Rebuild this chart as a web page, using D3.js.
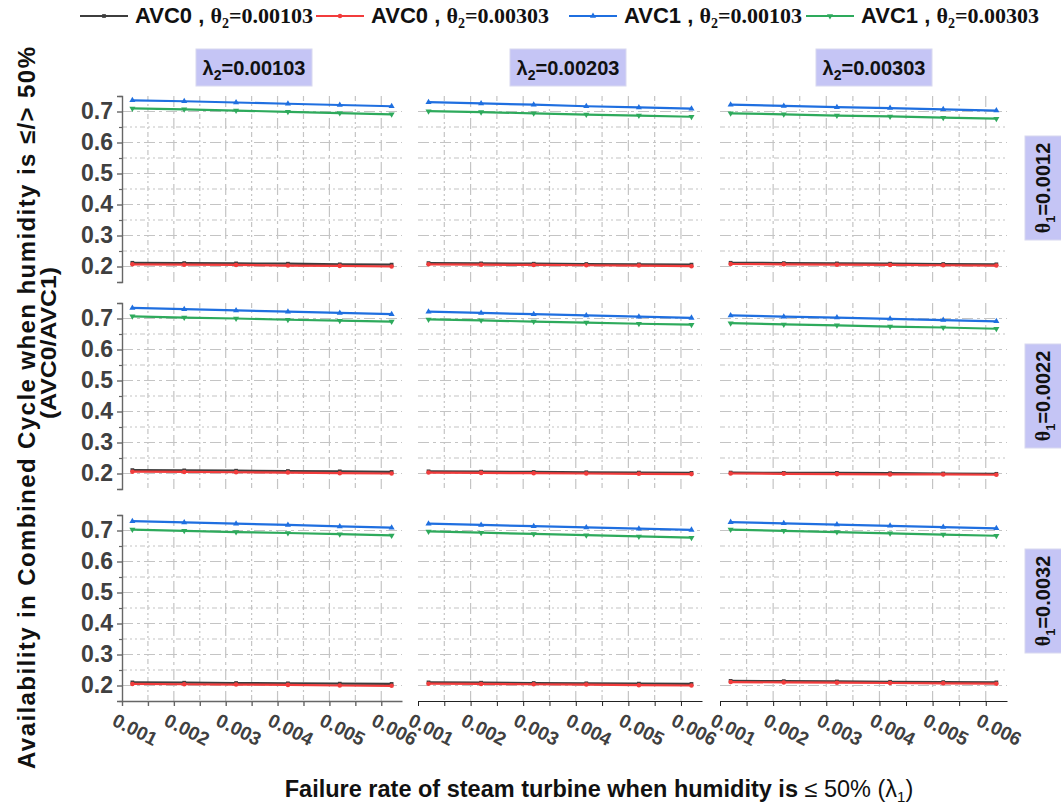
<!DOCTYPE html>
<html><head><meta charset="utf-8">
<script src="https://cdn.jsdelivr.net/npm/d3@7"></script>
<style>
body{margin:0;background:#fff}
svg{display:block}
text{font-family:"Liberation Sans",Arial,sans-serif;font-weight:bold}
</style>
</head><body>
<svg id="chart" width="1061" height="805"></svg>
<script>
// ---------- data ----------
const xValues = [0.001, 0.002, 0.003, 0.004, 0.005, 0.006];
const xTickLabels = ["0.001", "0.002", "0.003", "0.004", "0.005", "0.006"];
const yTickValues = [0.2, 0.3, 0.4, 0.5, 0.6, 0.7];
const lambda2Labels = ["0.00103", "0.00203", "0.00303"];
const theta1Labels = ["0.0012", "0.0022", "0.0032"];
const seriesNames = ["AVC0", "AVC0", "AVC1", "AVC1"];
const theta2Labels = ["0.00103", "0.00303", "0.00103", "0.00303"];

// each: [row(θ1)][col(λ2)] -> 6 values
const avc0_t2_00103 = [
  [[0.212,0.211,0.210,0.209,0.207,0.206],[0.211,0.210,0.209,0.208,0.207,0.206],[0.212,0.211,0.210,0.209,0.208,0.207]],
  [[0.211,0.210,0.209,0.208,0.207,0.205],[0.207,0.206,0.205,0.204,0.203,0.202],[0.203,0.202,0.202,0.201,0.200,0.199]],
  [[0.210,0.209,0.208,0.207,0.206,0.205],[0.210,0.209,0.208,0.207,0.206,0.205],[0.215,0.214,0.213,0.212,0.211,0.210]]
];
const avc0_t2_00303 = [
  [[0.207,0.206,0.205,0.203,0.202,0.200],[0.207,0.206,0.205,0.204,0.203,0.201],[0.208,0.207,0.206,0.205,0.204,0.203]],
  [[0.206,0.205,0.204,0.203,0.201,0.200],[0.203,0.202,0.201,0.200,0.199,0.198],[0.200,0.199,0.198,0.197,0.197,0.196]],
  [[0.205,0.204,0.203,0.202,0.200,0.199],[0.206,0.205,0.204,0.203,0.201,0.200],[0.211,0.210,0.209,0.208,0.207,0.206]]
];
const avc1_t2_00103 = [
  [[0.736,0.733,0.729,0.725,0.721,0.717],[0.730,0.726,0.722,0.717,0.713,0.709],[0.722,0.718,0.714,0.711,0.707,0.703]],
  [[0.734,0.730,0.726,0.722,0.718,0.714],[0.722,0.718,0.714,0.710,0.706,0.702],[0.710,0.706,0.703,0.699,0.695,0.691]],
  [[0.730,0.726,0.722,0.718,0.713,0.709],[0.722,0.718,0.714,0.710,0.706,0.702],[0.727,0.723,0.719,0.715,0.711,0.707]]
];
const avc1_t2_00303 = [
  [[0.710,0.707,0.703,0.699,0.695,0.691],[0.701,0.698,0.694,0.690,0.687,0.683],[0.694,0.691,0.687,0.684,0.680,0.677]],
  [[0.707,0.703,0.700,0.696,0.693,0.690],[0.697,0.694,0.690,0.687,0.683,0.680],[0.685,0.681,0.678,0.674,0.671,0.667]],
  [[0.703,0.699,0.695,0.692,0.688,0.684],[0.697,0.693,0.689,0.685,0.681,0.677],[0.703,0.699,0.695,0.691,0.687,0.683]]
];

// ---------- styles ----------
const series = [
  {data: avc0_t2_00103, color: "#3d3d3d", symbol: d3.symbolSquare, size: 14, rot: 0},
  {data: avc0_t2_00303, color: "#f23c3c", symbol: d3.symbolCircle, size: 16, rot: 0},
  {data: avc1_t2_00103, color: "#1f6fe0", symbol: d3.symbolTriangle, size: 16, rot: 0},
  {data: avc1_t2_00303, color: "#2eaa5c", symbol: d3.symbolTriangle, size: 16, rot: 180}
];

const svg = d3.select("#chart");
const rowTop = [96, 303, 515];
const rowH = 186;
const colX = [122, 418, 720];
const colW = [280, 284, 287];
const gridColor = "#c4c4c4";
const tickTextColor = "#404040";

for (let r = 0; r < 3; r++) {
  for (let c = 0; c < 3; c++) {
    const x = d3.scaleLinear().domain([0.0008, 0.0062]).range([colX[c], colX[c] + colW[c]]);
    const y = d3.scaleLinear().domain([0.15, 0.75]).range([rowTop[r] + rowH, rowTop[r]]);
    const g = svg.append("g");

    // horizontal grid
    const hMajor = yTickValues;
    const hMinor = [0.25, 0.35, 0.45, 0.55, 0.65];
    g.selectAll(".hmaj").data(hMajor).join("line")
      .attr("x1", x.range()[0]).attr("x2", x.range()[1])
      .attr("y1", d => y(d)).attr("y2", d => y(d))
      .attr("stroke", gridColor).attr("stroke-width", 1.2)
      .attr("stroke-dasharray", "11,4,3,4");
    g.selectAll(".hmin").data(hMinor).join("line")
      .attr("x1", x.range()[0]).attr("x2", x.range()[1])
      .attr("y1", d => y(d)).attr("y2", d => y(d))
      .attr("stroke", gridColor).attr("stroke-width", 1.2)
      .attr("stroke-dasharray", "5,3,2,3,2,3");
    // vertical grid
    const vLines = d3.range(1, 11).map(k => 0.0008 + k * 0.0005);
    g.selectAll(".vg").data(vLines).join("line")
      .attr("x1", d => x(d)).attr("x2", d => x(d))
      .attr("y1", y.range()[1]).attr("y2", y.range()[0])
      .attr("stroke", gridColor).attr("stroke-width", 1.2)
      .attr("stroke-dasharray", (d, i) => i % 2 === 1 ? "11,4,3,4" : "5,3,2,3,2,3");

    // y axis in first column
    if (c === 0) {
      const ya = d3.axisLeft(y).tickValues(yTickValues).tickFormat(d3.format(".1f")).tickSize(5).tickPadding(4);
      const ag = g.append("g").attr("transform", `translate(${colX[c]},0)`).call(ya);
      ag.select(".domain").attr("stroke", "#666").attr("stroke-width", 1.4);
      ag.selectAll(".tick line").attr("stroke", "#666").attr("stroke-width", 1.4);
      ag.selectAll(".tick text").attr("fill", tickTextColor)
        .style("font-size", "23px").style("font-weight", "bold")
        .style("font-family", '"Liberation Sans",Arial,sans-serif');
      const ym = d3.axisLeft(y).tickValues([0.15,0.25,0.35,0.45,0.55,0.65,0.75]).tickFormat("").tickSize(3);
      const mg = g.append("g").attr("transform", `translate(${colX[c]},0)`).call(ym);
      mg.select(".domain").remove();
      mg.selectAll(".tick line").attr("stroke", "#666").attr("stroke-width", 1.2);
    }

    // x axis in last row
    if (r === 2) {
      const tickVals = d3.range(0, 11).map(k => 0.0008 + k * 0.0005);
      const xa = d3.axisBottom(x).tickValues(tickVals).tickFormat("").tickSize(5).tickSizeOuter(0);
      const xg = g.append("g").attr("transform", `translate(0,${rowTop[r] + rowH})`).call(xa);
      const axColor = c === 0 ? "#666" : "#222";
      xg.select(".domain").attr("stroke", axColor).attr("stroke-width", c === 0 ? 1.4 : 1);
      xg.selectAll(".tick line").attr("stroke", axColor).attr("stroke-width", c === 0 ? 1.4 : 1);
      g.selectAll(".xl").data(xValues).join("text")
        .attr("transform", (d) => `translate(${x(d) + 2},${rowTop[r] + rowH + 30}) rotate(27)`)
        .attr("text-anchor", "middle").attr("dominant-baseline", "middle")
        .attr("fill", tickTextColor).style("font-size", "19px")
        .text((d, i) => xTickLabels[i]);
    }

    // series
    const line = d3.line().x((d, i) => x(xValues[i])).y(d => y(d));
    series.forEach(s => {
      const vals = s.data[r][c];
      g.append("path").datum(vals).attr("d", line)
        .attr("fill", "none").attr("stroke", s.color).attr("stroke-width", 2.2);
      g.selectAll(null).data(vals).join("path")
        .attr("d", d3.symbol().type(s.symbol).size(s.size))
        .attr("transform", (d, i) => `translate(${x(xValues[i])},${y(d)}) rotate(${s.rot})`)
        .attr("fill", s.color);
    });
  }
}

// ---------- column headers (λ2) ----------
const headerCx = [254, 568, 874];
lambda2Labels.forEach((lab, i) => {
  svg.append("rect").attr("x", headerCx[i] - 58).attr("y", 49).attr("width", 116).attr("height", 37)
    .attr("fill", "#c5c5f5").attr("stroke", "#d8d8f0");
  const t = svg.append("text").attr("x", headerCx[i]).attr("y", 75).attr("text-anchor", "middle")
    .attr("fill", "#111").style("font-size", "20px");
  t.append("tspan").text("λ");
  t.append("tspan").attr("dy", 5).style("font-size", "14px").text("2");
  t.append("tspan").attr("dy", -5).text("=" + lab);
});

// ---------- row strips (θ1) ----------
const stripCy = [188, 396, 601];
theta1Labels.forEach((lab, i) => {
  svg.append("rect").attr("x", 1025).attr("y", stripCy[i] - 52).attr("width", 40).attr("height", 104)
    .attr("fill", "#c5c5f5").attr("stroke", "#d8d8f0");
  const t = svg.append("text").attr("transform", `translate(1050,${stripCy[i]}) rotate(-90)`)
    .attr("text-anchor", "middle").attr("fill", "#111").style("font-size", "20px");
  t.append("tspan").style("font-family", '"Liberation Serif",serif').text("θ");
  t.append("tspan").attr("dy", 5).style("font-size", "13px").text("1");
  t.append("tspan").attr("dy", -5).text("=" + lab);
});

// ---------- legend ----------
const legendLineX = [80, 316, 569, 806];
const ly = 16;
const legendTextW = 174;
series.forEach((s, i) => {
  const lx = legendLineX[i];
  const lg = svg.append("g");
  lg.append("line").attr("x1", lx).attr("x2", lx + 48).attr("y1", ly).attr("y2", ly)
    .attr("stroke", s.color).attr("stroke-width", 2.2);
  lg.append("path").attr("d", d3.symbol().type(s.symbol).size(s.size))
    .attr("transform", `translate(${lx + 24},${ly}) rotate(${s.rot})`).attr("fill", s.color);
  const t = lg.append("text").attr("x", lx + 55).attr("y", ly + 7).attr("fill", "#111")
    .style("font-size", "22px");
  t.append("tspan").text(seriesNames[i] + " , ");
  t.append("tspan").style("font-family", '"Liberation Serif",serif').text("θ");
  t.append("tspan").attr("dy", 5).style("font-size", "14px").style("font-family", '"Liberation Serif",serif').text("2");
  t.append("tspan").attr("dy", -5).style("font-family", '"Liberation Serif",serif').text("=" + theta2Labels[i]);
  const w = t.node().getBBox().width;
  const nChars = (seriesNames[i] + " , θ2=" + theta2Labels[i]).length;
  if (w < legendTextW) t.style("letter-spacing", ((legendTextW - w) / (nChars - 1)).toFixed(2) + "px");
});

// ---------- axis titles ----------
svg.append("text").attr("transform", "translate(35,408) rotate(-90)").attr("text-anchor", "middle")
  .attr("fill", "#111").style("font-size", "24px")
  .attr("textLength", 722).attr("lengthAdjust", "spacing")
  .text("Availability in Combined Cycle when humidity is ≤/> 50%");
svg.append("text").attr("transform", "translate(56,343) rotate(-90)").attr("text-anchor", "middle")
  .attr("fill", "#111").style("font-size", "22px")
  .attr("textLength", 152).attr("lengthAdjust", "spacingAndGlyphs")
  .text("(AVC0/AVC1)");
const xt = svg.append("text").attr("x", 599).attr("y", 797).attr("text-anchor", "middle")
  .attr("fill", "#111").style("font-size", "23.5px");
xt.append("tspan").text("Failure rate of steam turbine when humidity is ");
xt.append("tspan").style("font-weight", "normal").text("≤ 50% (λ");
xt.append("tspan").attr("dy", 5).style("font-size", "15px").style("font-weight", "normal").text("1");
xt.append("tspan").attr("dy", -5).style("font-weight", "normal").text(")");
</script>
</body></html>
